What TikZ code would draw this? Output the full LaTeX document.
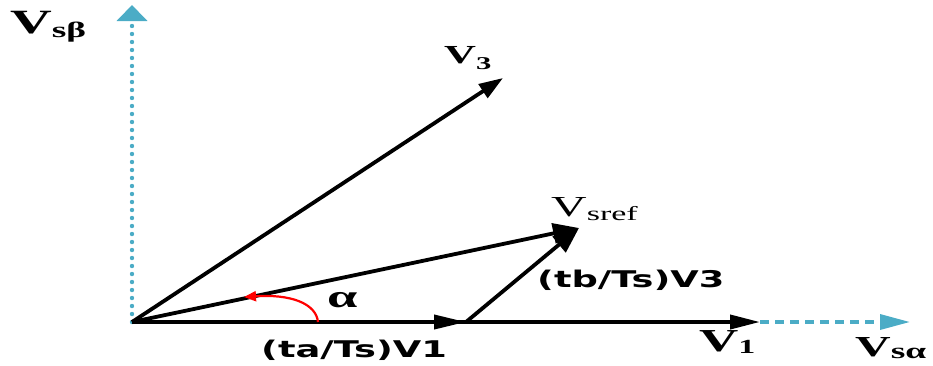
\documentclass[tikz,border=0pt]{standalone}
\usepackage{fontspec}
\setmainfont{Liberation Serif}
\newfontfamily\labfont{DejaVu Sans}
\usetikzlibrary{arrows.meta}
\definecolor{axisblue}{RGB}{75,172,198}
\newcommand{\strx}[1]{\scalebox{1.7}[1]{#1}}
\newcommand{\fs}[1]{\fontsize{#1}{#1}\selectfont}
\tikzset{
  vec/.style={line width=3.8pt, black},
  axisline/.style={line width=4.4pt, axisblue},
  lbl/.style={inner sep=0pt, anchor=base west},
}
\begin{document}
\begin{tikzpicture}[x=1pt,y=-1pt]
\useasboundingbox (0,0) rectangle (933,365);
% points
\coordinate (O) at (132,322);
\coordinate (Ytip) at (132,5);
\coordinate (V1) at (760,322);
\coordinate (Xtip) at (910,322);
\coordinate (A) at (466,322);
\coordinate (V3) at (503,78);
\coordinate (R) at (579,228);
\coordinate (arcS) at (318,322);
\coordinate (arcE) at (244,297);
% axes
\draw[axisline, line cap=round, dash pattern=on 0pt off 8pt,
  -{Triangle[length=16pt,width=30pt,line cap=butt]}] (O) -- (Ytip);
\draw[axisline, line width=3.4pt, dash pattern=on 9pt off 6pt,
  -{Triangle[length=30pt,width=15pt]}] (V1) -- (Xtip);
% vectors
\draw[vec, -{Triangle[length=30pt,width=14pt]}] (O) -- (V1);
\draw[vec, -{Triangle[length=32pt,width=14pt]}] (O) -- (A);
\draw[vec, -{Triangle[length=24pt,width=16pt]}] (O) -- (V3);
\draw[vec, -{Triangle[length=26pt,width=20pt]}] (O) -- (R);
\draw[vec, -{Triangle[length=26pt,width=20pt]}] (A) -- (R);
% angle
\draw[red, line width=2.2pt, -{Triangle[length=12pt,width=10pt]}]
  (arcS) .. controls (316,303) and (290,294) .. (arcE);
% labels
\node[lbl] (lbeta) at (10,33) {\strx{\bfseries\fs{34}V\raisebox{-4pt}{\fs{22}sβ}}};
\node[lbl] (lv3) at (444,63) {\strx{\bfseries\fs{26}V\raisebox{-6pt}{\fs{18}3}}};
\node[lbl] (lref) at (551,216) {\strx{\fs{29}V\raisebox{-4pt}{\fs{20}sref}}};
\node[lbl] (lv1) at (699,351) {\strx{\bfseries\fs{32}V\raisebox{-2pt}{\fs{20}1}}};
\node[lbl] (lalpha) at (855,356) {\strx{\bfseries\fs{29}V\raisebox{-2pt}{\fs{22}sα}}};
\node[lbl] (la) at (327,307) {\strx{\bfseries\fs{32}α}};
\node[lbl] (lta) at (261,357) {\scalebox{1.6}[1]{\labfont\bfseries\fs{23}(ta/Ts)V1}};
\node[lbl] (ltb) at (537,287) {\scalebox{1.6}[1]{\labfont\bfseries\fs{23}(tb/Ts)V3}};
\end{tikzpicture}
\end{document}
